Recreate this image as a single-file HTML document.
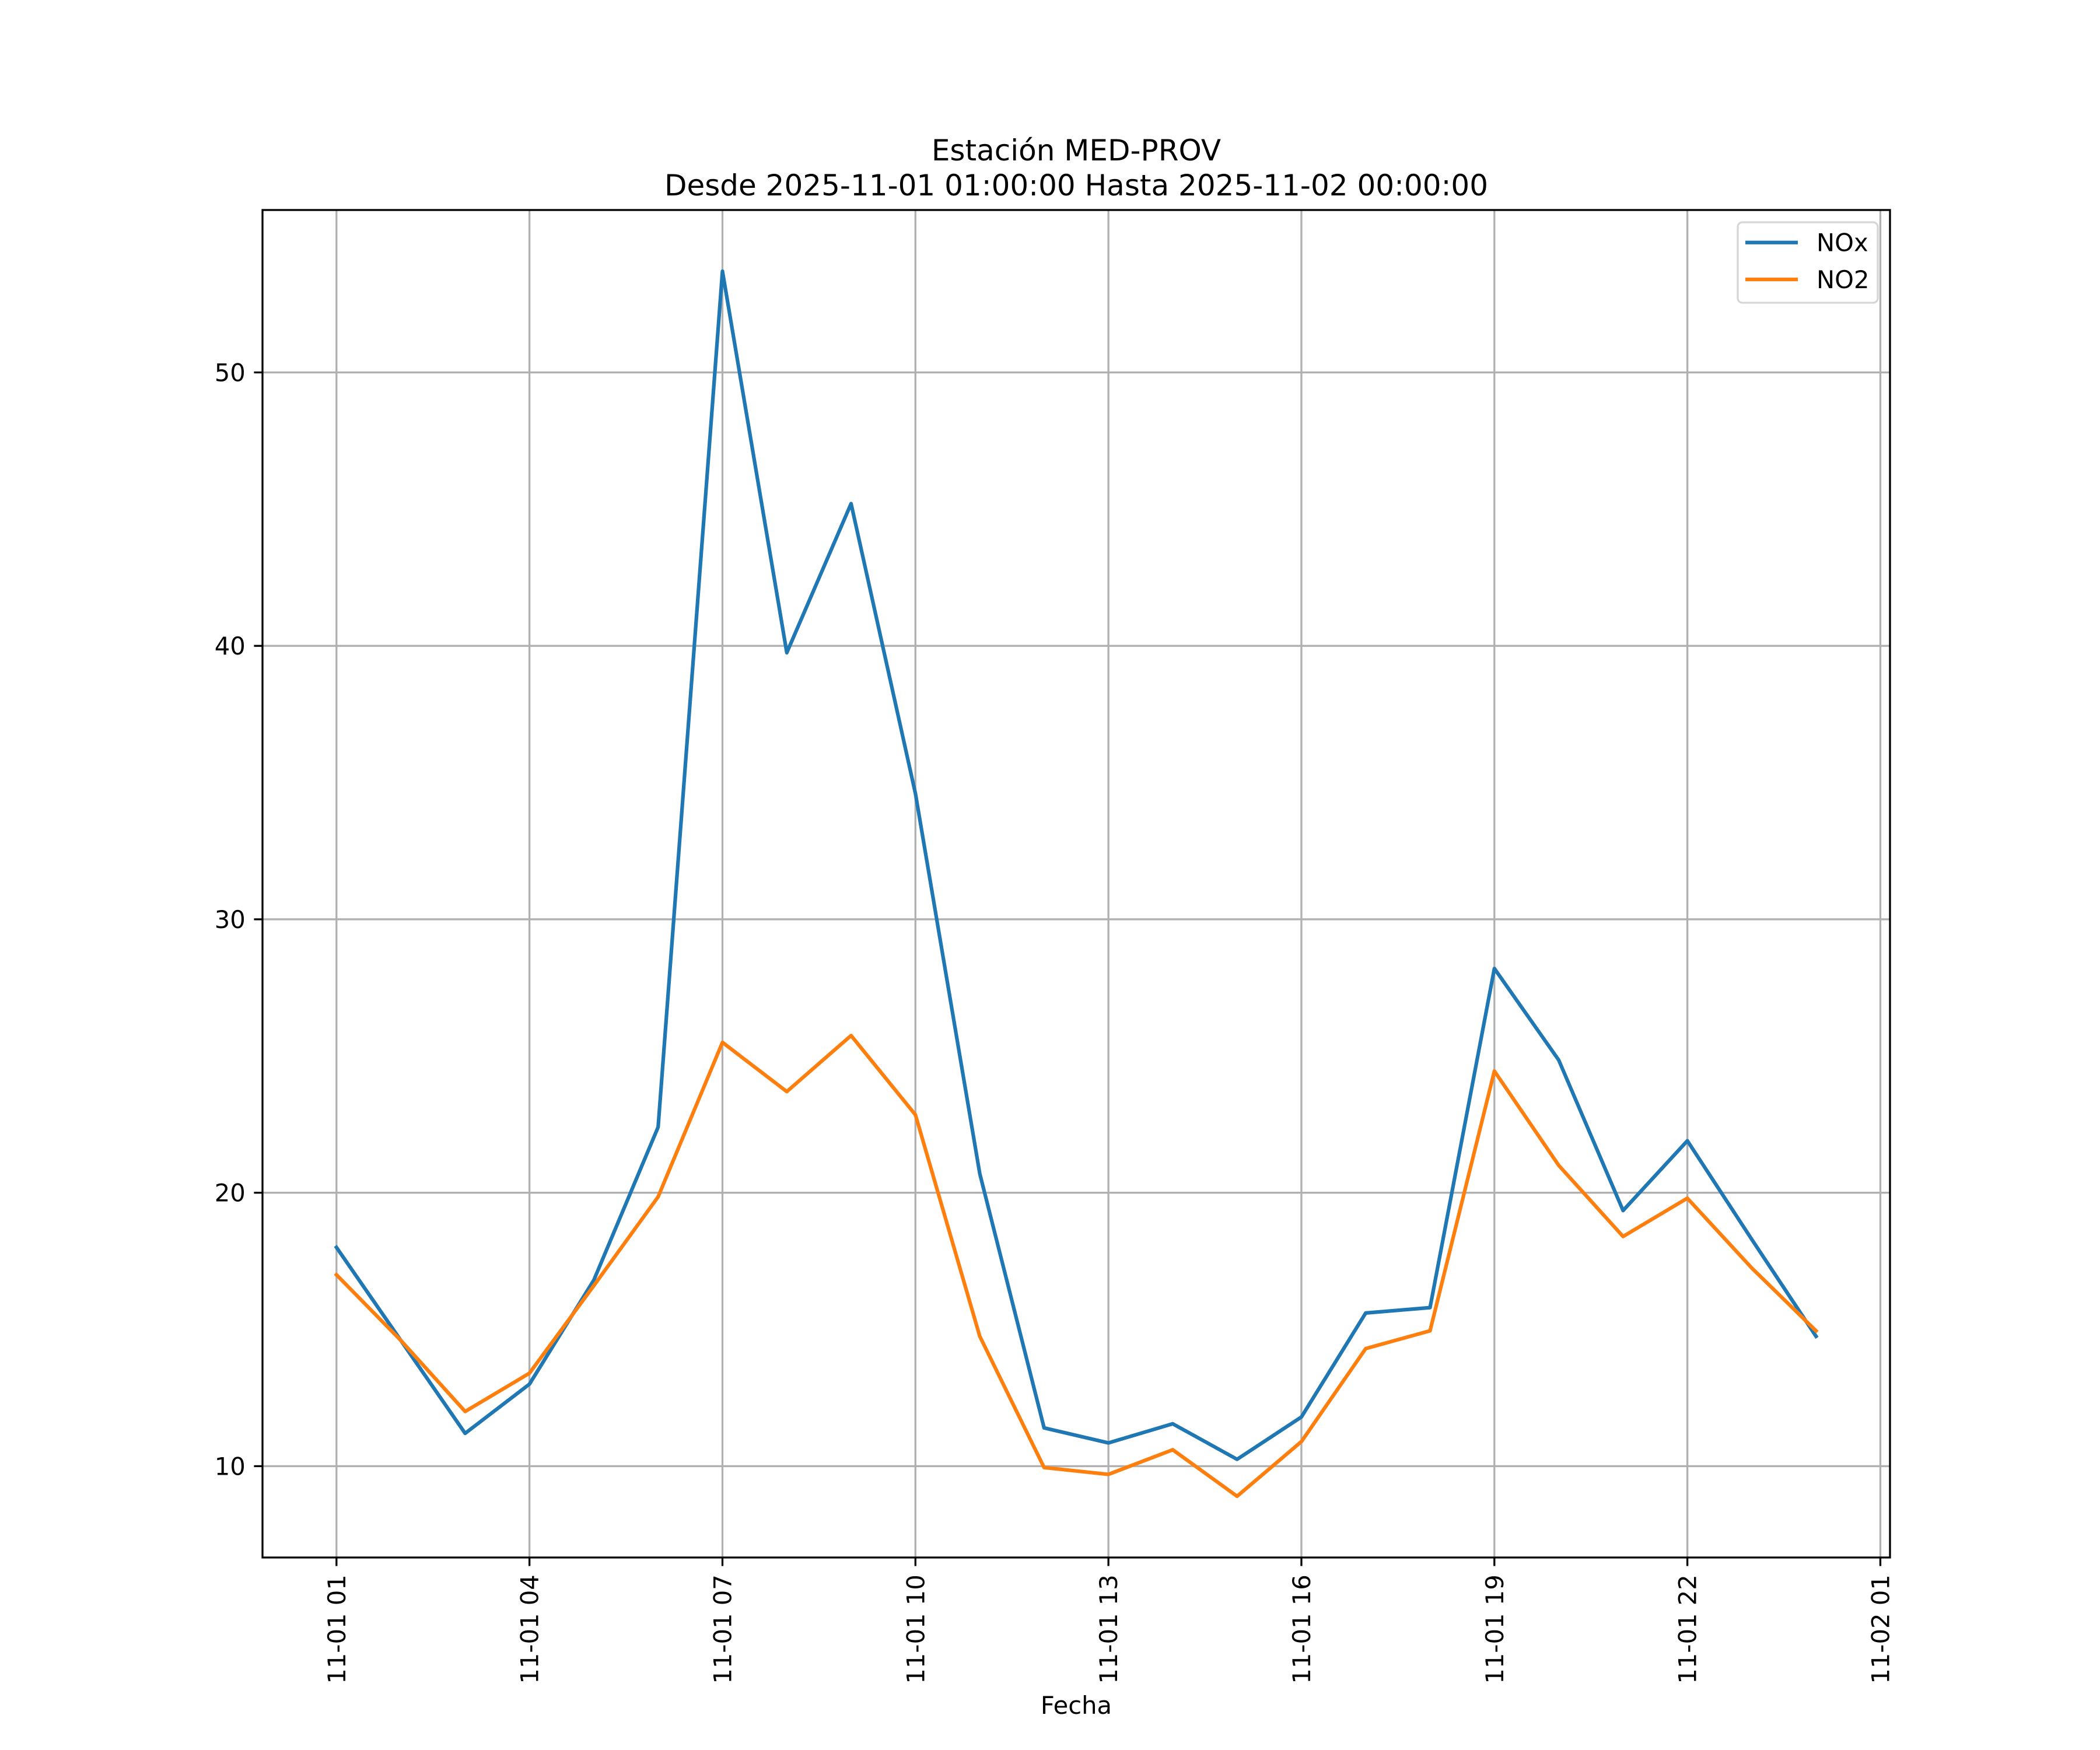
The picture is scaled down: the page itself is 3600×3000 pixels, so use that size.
<!DOCTYPE html>
<html><head><meta charset="utf-8">
<style>
html,body{margin:0;padding:0;background:#fff;}
svg{display:block;font-family:"DejaVu Sans","Liberation Sans",sans-serif;}
</style></head>
<body>
<svg id="chart" width="3600" height="3000" viewBox="0 0 3600 3000" xmlns="http://www.w3.org/2000/svg">
<rect x="0" y="0" width="3600" height="3000" fill="#fff"/>
<text x="1845" y="275" font-size="50" text-anchor="middle">Estación MED-PROV</text>
<text x="1845" y="335" font-size="50" text-anchor="middle">Desde 2025-11-01 01:00:00 Hasta 2025-11-02 00:00:00</text>
<g id="grid"></g>
<g id="series"></g>
<rect x="450" y="360" width="2790" height="2310" fill="none" stroke="#000" stroke-width="3.3"/>
<g id="ticks"></g>
<text x="1845" y="2938" font-size="41.7" text-anchor="middle">Fecha</text>
<g>
<rect x="2979" y="381" width="240" height="138" rx="8" fill="#fff" fill-opacity="0.8" stroke="#d6d6d6" stroke-width="3.3"/>
<line x1="2992" y1="415.7" x2="3082" y2="415.7" stroke="#1f77b4" stroke-width="6.25"/>
<text x="3114" y="430.5" font-size="41.7">NOx</text>
<line x1="2992" y1="479" x2="3082" y2="479" stroke="#ff7f0e" stroke-width="6.25"/>
<text x="3114" y="494" font-size="41.7">NO2</text>
</g>
</svg>
<script>
const hours = [1,2,3,4,5,6,7,8,9,10,11,12,13,14,15,16,17,18,19,20,21,22,23,24];
const noxValues = [18.0,14.6,11.2,13.0,16.8,22.4,53.7,39.75,45.2,34.6,20.7,11.4,10.85,11.55,10.25,11.8,15.6,15.8,28.2,24.85,19.35,21.9,18.3,14.75];
const no2Values = [17.0,14.6,12.0,13.4,16.6,19.85,25.5,23.7,25.75,22.85,14.75,9.95,9.7,10.6,8.9,10.9,14.3,14.95,24.45,21.0,18.4,19.8,17.25,14.95];
const yTicks = [10,20,30,40,50];
const xTickHours = [1,4,7,10,13,16,19,22,25];
const xTickLabels = ["11-01 01","11-01 04","11-01 07","11-01 10","11-01 13","11-01 16","11-01 19","11-01 22","11-02 01"];

const NS = "http://www.w3.org/2000/svg";
const L = 450, R = 3240, T = 360, B = 2670;
const allV = noxValues.concat(no2Values);
const vmin = Math.min(...allV), vmax = Math.max(...allV);
const yLo = vmin - 0.05*(vmax-vmin), yHi = vmax + 0.05*(vmax-vmin);
const hmin = Math.min(...hours), hmax = Math.max(...hours);
const xLo = hmin - 0.05*(hmax-hmin), xHi = hmax + 0.05*(hmax-hmin);
function xs(h){ return L + (h - xLo)/(xHi - xLo)*(R - L); }
function ys(v){ return B - (v - yLo)/(yHi - yLo)*(B - T); }
function mk(tag, attrs, parent){
  const el = document.createElementNS(NS, tag);
  for (const k in attrs) el.setAttribute(k, attrs[k]);
  parent.appendChild(el);
  return el;
}
const grid = document.getElementById('grid');
const ticks = document.getElementById('ticks');
const series = document.getElementById('series');

yTicks.forEach(v => {
  const y = ys(v);
  const g = mk('line', {x1:L, x2:R, y1:y, y2:y, stroke:'#b0b0b0', 'stroke-width':3.3}, grid);
  
  
  const t = mk('line', {x1:L-14.6, x2:L, y1:y, y2:y, stroke:'#000', 'stroke-width':3.3}, ticks);
  
  
  const tx = mk('text', {x:L-29.2, y:y+15, 'font-size':41.7, 'text-anchor':'end'}, ticks);
  tx.textContent = String(v);
  
  
});
xTickHours.forEach((h, i) => {
  const x = xs(h);
  const g = mk('line', {x1:x, x2:x, y1:T, y2:B, stroke:'#b0b0b0', 'stroke-width':3.3}, grid);
  
  
  const t = mk('line', {x1:x, x2:x, y1:B, y2:B+14.6, stroke:'#000', 'stroke-width':3.3}, ticks);
  
  
  const tx = mk('text', {x:0, y:0, 'font-size':41.7, 'text-anchor':'end', transform:'translate('+(x+15)+','+(B+29.2)+') rotate(-90)'}, ticks);
  tx.textContent = xTickLabels[i];
  
  
});
function drawLine(vals, color, name){
  const pts = hours.map((h, i) => xs(h).toFixed(1) + ',' + ys(vals[i]).toFixed(1)).join(' ');
  const p = mk('polyline', {points:pts, fill:'none', stroke:color, 'stroke-width':6.25, 'stroke-linejoin':'round', 'stroke-linecap':'square'}, series);
  
  
}
drawLine(noxValues, '#1f77b4', 'nox-line');
drawLine(no2Values, '#ff7f0e', 'no2-line');
</script>
</body></html>
